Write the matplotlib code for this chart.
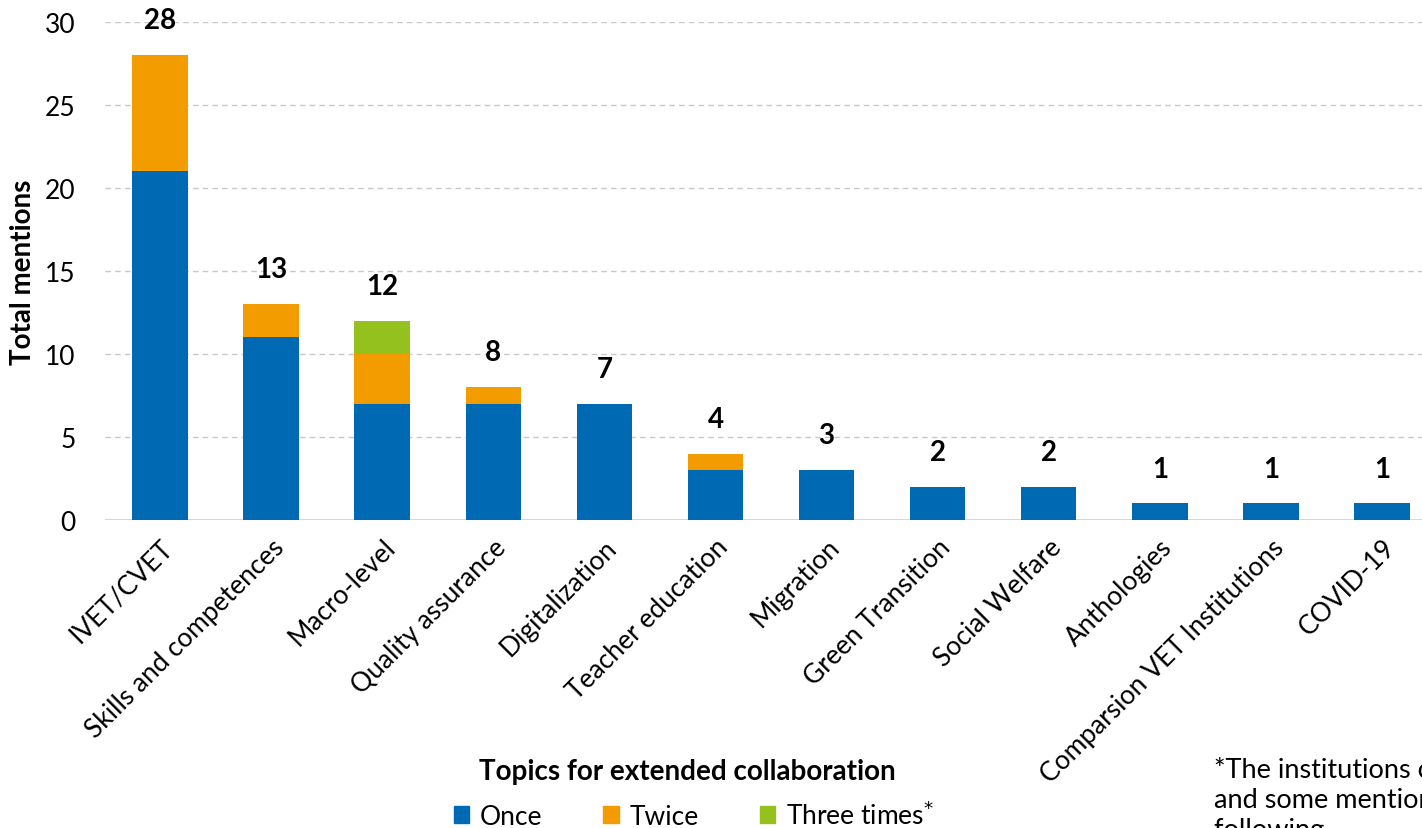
import numpy as np
import matplotlib.pyplot as plt
from matplotlib.patches import Patch

plt.rcParams['font.family'] = ['Lato', 'DejaVu Sans']

# dados
topicos = ['IVET/CVET', 'Skills and competences', 'Macro-level', 'Quality assurance',
           'Digitalization', 'Teacher education', 'Migration', 'Green Transition',
           'Social Welfare', 'Anthologies', 'Comparsion VET Institutions', 'COVID-19']
uma_vez = [21, 11, 7, 7, 7, 3, 3, 2, 2, 1, 1, 1]
duas_vezes = [7, 2, 3, 1, 0, 1, 0, 0, 0, 0, 0, 0]
tres_vezes = [0, 0, 2, 0, 0, 0, 0, 0, 0, 0, 0, 0]

azul = '#0069B4'
laranja = '#F39C00'
verde = '#95C11F'

fig = plt.figure(figsize=(14.22, 8.29), dpi=100)
ax = fig.add_axes([0.0735, 0.3715, 0.9374, 0.6008])

x = np.arange(len(topicos))
a = np.array(uma_vez)
b = np.array(duas_vezes)
c = np.array(tres_vezes)
ax.bar(x, a, 0.5, color=azul, zorder=3)
ax.bar(x, b, 0.5, bottom=a, color=laranja, zorder=3)
ax.bar(x, c, 0.5, bottom=a + b, color=verde, zorder=3)

# totais em cima das barras
total = a + b + c
for xi, t in zip(x, total):
    ax.annotate(str(t), (xi, t), xytext=(0, 25), textcoords='offset points',
                ha='center', va='center', fontsize=20, fontweight='bold')

ax.set_xlim(-0.5, len(topicos) - 0.5)
ax.set_ylim(0, 30)
ax.set_yticks(range(0, 31, 5))
ax.yaxis.grid(True, linestyle=(0, (4, 3)), color='#C8C8C8', linewidth=1, zorder=0)
ax.axhline(0, color='#D0D0D0', linewidth=1.2, zorder=2)
for s in ax.spines.values():
    s.set_visible(False)
ax.tick_params(axis='both', length=0, labelsize=19)
ax.tick_params(axis='y', pad=21)
ax.set_xticks(x)
ax.set_xticklabels(topicos, rotation=45, ha='right', rotation_mode='anchor', fontsize=19)
ax.tick_params(axis='x', pad=10)
ax.set_ylabel('Total mentions', fontsize=20, fontweight='bold', labelpad=6)

fig.text(0.483, 0.069, 'Topics for extended collaboration', ha='center', va='center',
         fontsize=20, fontweight='bold')

handles = [Patch(color=azul), Patch(color=laranja), Patch(color=verde)]
fig.legend(handles, ['Once', 'Twice', 'Three times$^{*}$'], loc='center',
           bbox_to_anchor=(0.488, 0.016), ncol=3, frameon=False, fontsize=19,
           handlelength=0.6, handleheight=0.6, handletextpad=0.4, columnspacing=2.3)

fig.text(0.854, 0.087, '*The institutions could name several topics,\n'
         'and some mentioned a topic more than once,\nfollowing ...',
         ha='left', va='top', fontsize=19.5, linespacing=1.25)

fig.savefig('out.png', dpi=100)
